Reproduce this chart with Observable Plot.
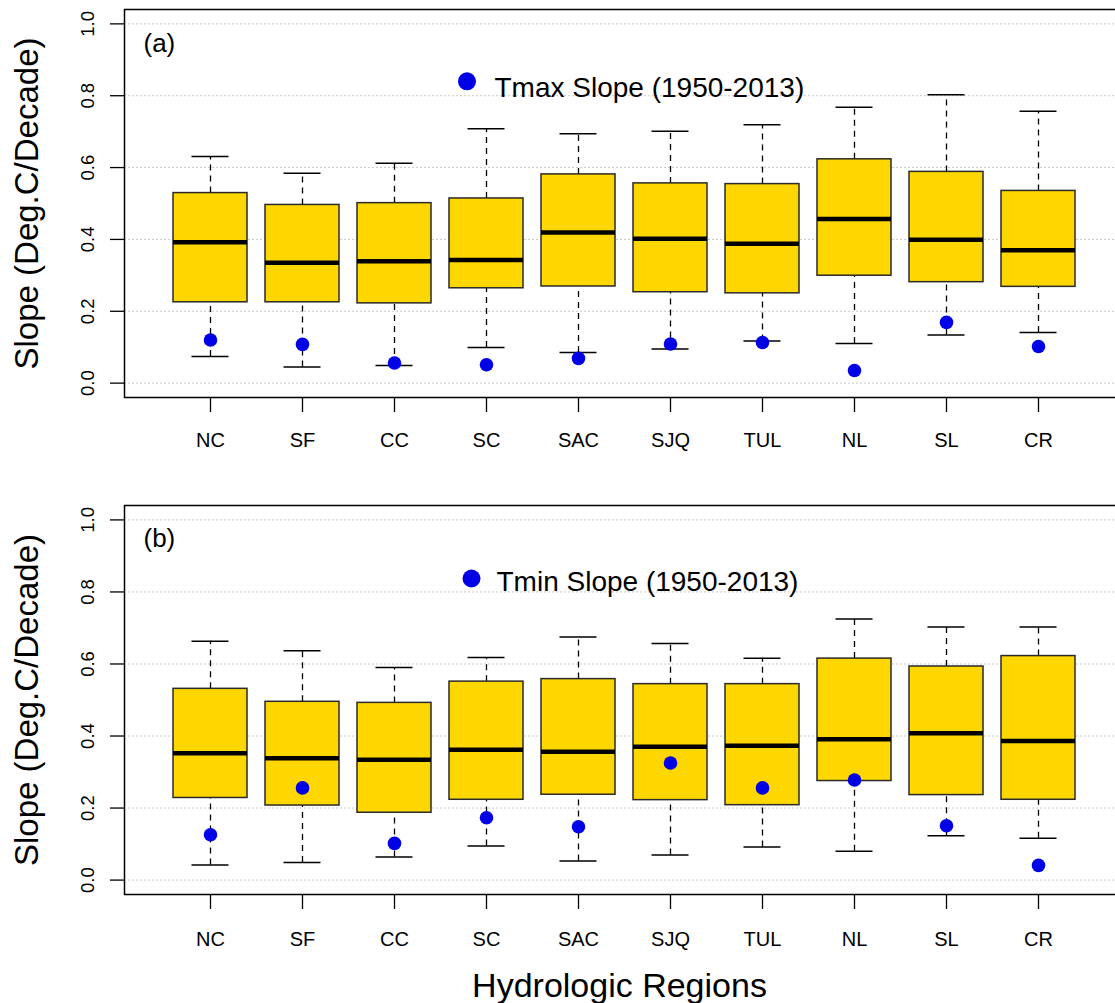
<!DOCTYPE html>
<html><head><meta charset="utf-8">
<script src="https://cdn.jsdelivr.net/npm/d3@7"></script>
<script src="https://cdn.jsdelivr.net/npm/@observablehq/plot@0.6"></script>
<style>
html,body{margin:0;padding:0;background:#fff;overflow:hidden}
#wrap{position:relative;width:1115px;height:1003px;overflow:hidden;background:#fff}
#wrap svg{max-width:none !important;display:block}
</style></head><body><div id="wrap"><div id="pa"></div><div id="pb"></div></div>
<script>
// Categories
const regions = ["NC","SF","CC","SC","SAC","SJQ","TUL","NL","SL","CR"];
const yTicks = [0, 0.2, 0.4, 0.6, 0.8, 1.0];
const yTickLabels = ["0.0", "0.2", "0.4", "0.6", "0.8", "1.0"];

// Panel (a): Tmax trends
const tmaxLower  = [0.074,0.045,0.049,0.099,0.085,0.095,0.117,0.110,0.134,0.141];
const tmaxQ1     = [0.225,0.225,0.222,0.264,0.269,0.253,0.250,0.299,0.281,0.268];
const tmaxMedian = [0.392,0.335,0.339,0.343,0.419,0.402,0.388,0.457,0.399,0.370];
const tmaxQ3     = [0.529,0.496,0.501,0.514,0.581,0.556,0.554,0.623,0.588,0.535];
const tmaxUpper  = [0.631,0.584,0.612,0.708,0.694,0.701,0.719,0.768,0.803,0.757];
const tmaxSlope  = [0.120,0.108,0.056,0.051,0.069,0.109,0.113,0.035,0.169,0.102];

// Panel (b): Tmin trends
const tminLower  = [0.042,0.049,0.064,0.095,0.053,0.070,0.092,0.080,0.123,0.116];
const tminQ1     = [0.228,0.207,0.187,0.223,0.237,0.222,0.208,0.275,0.236,0.223];
const tminMedian = [0.352,0.338,0.334,0.362,0.356,0.370,0.373,0.391,0.408,0.386];
const tminQ3     = [0.531,0.495,0.492,0.551,0.558,0.544,0.544,0.615,0.593,0.622];
const tminUpper  = [0.663,0.637,0.590,0.618,0.675,0.657,0.616,0.725,0.703,0.703];
const tminSlope  = [0.126,0.256,0.102,0.173,0.148,0.325,0.256,0.278,0.151,0.041];

const yTitle = "Slope (Deg.C/Decade)";
const xTitle = "Hydrologic Regions";

function rows(lo, q1, med, q3, hi, pt) {
  return regions.map((r, i) => ({region: r, lo: lo[i], q1: q1[i], med: med[i], q3: q3[i], hi: hi[i], pt: pt[i]}));
}
const yLabelRows = yTicks.map((v, i) => ({v, label: yTickLabels[i]}));

const FONT = "'Liberation Sans', Arial, Helvetica, sans-serif";

function panel(o) {
  const data = o.data;
  const marks = [
    Plot.ruleY(yTicks, {stroke: "#c8c8c8", strokeWidth: 1, strokeDasharray: "2,2"}),
    Plot.ruleX(data, {x: "region", y1: "q3", y2: "hi", stroke: "#000", strokeWidth: 1.3, strokeDasharray: "6,5"}),
    Plot.ruleX(data, {x: "region", y1: "lo", y2: "q1", stroke: "#000", strokeWidth: 1.3, strokeDasharray: "6,5"}),
    Plot.tickY(data, {x: "region", y: "hi", stroke: "#000", strokeWidth: 1.5, inset: 18.5}),
    Plot.tickY(data, {x: "region", y: "lo", stroke: "#000", strokeWidth: 1.5, inset: 18.5}),
    Plot.barY(data, {x: "region", y1: "q1", y2: "q3", fill: "#FFD700", stroke: "#2a2a2a", strokeWidth: 1.5}),
    Plot.tickY(data, {x: "region", y: "med", stroke: "#000", strokeWidth: 4.5}),
    Plot.dot(data, {x: "region", y: "pt", r: 6.8, fill: "#0000e6", stroke: null}),
    Plot.frame({stroke: "#000", strokeWidth: 1.5}),
    Plot.axisX({tickSize: 15, tickPadding: o.tickPadX, fontSize: 20, label: null, strokeWidth: 1.3}),
    Plot.axisY({ticks: yTicks, tickFormat: () => "", tickSize: 14, label: null, strokeWidth: 1.3}),
    Plot.text(yLabelRows, {y: "v", text: "label", frameAnchor: "left", rotate: -90, dx: -31, fontSize: 18.5, textAnchor: "middle", lineAnchor: "bottom"}),
    Plot.text([yTitle], {frameAnchor: "left", rotate: -90, dx: -97, fontSize: 33, textAnchor: "middle", lineAnchor: "middle"}),
    Plot.text([o.tag], {frameAnchor: "top-left", dx: 19, dy: o.tagDy, fontSize: 26, textAnchor: "start", lineAnchor: "bottom"}),
    Plot.dot([o.legend], {frameAnchor: "top-left", dx: o.legDotDx, dy: o.legDotDy, r: 9, fill: "#0000e6", stroke: null}),
    Plot.text([o.legend], {frameAnchor: "top-left", dx: o.legTextDx, dy: o.legTextDy, fontSize: 28, textAnchor: "start", lineAnchor: "bottom"})
  ];
  if (o.xTitle) marks.push(Plot.text([o.xTitle], {frameAnchor: "bottom", dx: -4.5, dy: 102.4, fontSize: 34, textAnchor: "middle", lineAnchor: "bottom"}));
  return Plot.plot({
    width: 1123,
    height: o.height,
    marginLeft: 124,
    marginRight: 0,
    marginTop: o.marginTop,
    marginBottom: o.marginBottom,
    style: {fontFamily: FONT, color: "#000", background: "#fff", overflow: "hidden"},
    x: {type: "band", domain: regions, paddingInner: 0.2, paddingOuter: 0.51},
    y: {domain: [-0.04, 1.04]},
    marks
  });
}

document.getElementById("pa").appendChild(panel({
  data: rows(tmaxLower, tmaxQ1, tmaxMedian, tmaxQ3, tmaxUpper, tmaxSlope),
  height: 470, marginTop: 9, marginBottom: 73, tickPadX: 20,
  tag: "(a)", tagDy: 42.2,
  legend: "Tmax Slope (1950-2013)", legDotDx: 342.5, legDotDy: 71.8, legTextDx: 370, legTextDy: 87.7
}));
document.getElementById("pb").appendChild(panel({
  data: rows(tminLower, tminQ1, tminMedian, tminQ3, tminUpper, tminSlope),
  height: 533, marginTop: 35, marginBottom: 109, tickPadX: 22,
  tag: "(b)", tagDy: 41.5,
  legend: "Tmin Slope (1950-2013)", legDotDx: 347, legDotDy: 73, legTextDx: 372, legTextDy: 85,
  xTitle
}));
</script></body></html>
